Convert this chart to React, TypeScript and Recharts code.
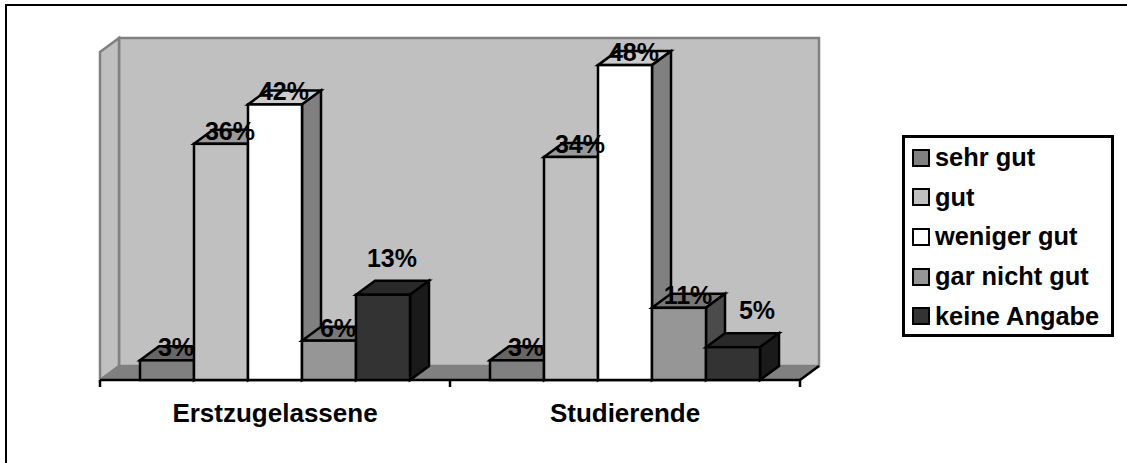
import { BarChart, Bar, XAxis, YAxis, Legend, LabelList, usePlotArea } from 'recharts';

const categories = ['Erstzugelassene', 'Studierende'];
const sehrGut = [3, 3];
const gut = [36, 34];
const wenigerGut = [42, 48];
const garNichtGut = [6, 11];
const keineAngabe = [13, 5];

const seriesNames = ['sehr gut', 'gut', 'weniger gut', 'gar nicht gut', 'keine Angabe'];
const seriesValues = [sehrGut, gut, wenigerGut, garNichtGut, keineAngabe];

// front, top and side face of each 3D column
const faces = [
  { front: '#808080', top: '#666666', side: '#404040' },
  { front: '#c0c0c0', top: '#9a9a9a', side: '#606060' },
  { front: '#ffffff', top: '#cccccc', side: '#808080' },
  { front: '#969696', top: '#787878', side: '#4b4b4b' },
  { front: '#333333', top: '#292929', side: '#1a1a1a' },
];

const chartData = categories.map((name, c) => {
  const row: Record<string, string | number> = { name };
  seriesNames.forEach((s, i) => {
    row[s] = seriesValues[i][c];
  });
  return row;
});

const WIDTH = 1127;
const HEIGHT = 463;
const DEPTH_X = 19;
const DEPTH_Y = 14;
const LINE = 2.5;
const FONT = '"Liberation Sans", Arial, sans-serif';
const LEGEND_WIDTH = 212;
const MARGIN = { left: 100, right: 327, top: 52, bottom: 53 };
// a right-hand legend takes its width out of the plot, so give that back
const LEGEND_MARGIN = { ...MARGIN, right: MARGIN.right - LEGEND_WIDTH };

// labels that sit clear of their column, by series and category
const labelNudge: Record<string, { dx: number; dy: number }> = {
  'keine Angabe|0': { dx: 0, dy: -24 },
  'keine Angabe|1': { dx: 15, dy: -24 },
};

function pts(list: number[][]) {
  return list.map((p) => p.join(',')).join(' ');
}

// back wall, side wall and floor behind the columns
function Walls() {
  const plot = usePlotArea();
  if (!plot) return null;
  const { x, y, width, height } = plot;
  const r = x + width;
  const b = y + height;
  const grey = '#808080';
  return (
    <g>
      <rect x={x + DEPTH_X} y={y - DEPTH_Y} width={width} height={height} fill="#c0c0c0" stroke={grey} strokeWidth={LINE} />
      <polygon
        points={pts([[x, y], [x + DEPTH_X, y - DEPTH_Y], [x + DEPTH_X, b - DEPTH_Y], [x, b]])}
        fill="#c0c0c0"
        stroke={grey}
        strokeWidth={LINE}
      />
      <polygon
        points={pts([[x, b], [x + DEPTH_X, b - DEPTH_Y], [r + DEPTH_X, b - DEPTH_Y], [r, b]])}
        fill={grey}
        stroke={grey}
      />
    </g>
  );
}

// axis line with ticks on the category edges
function AxisEdge() {
  const plot = usePlotArea();
  if (!plot) return null;
  const { x, y, width, height } = plot;
  const b = y + height;
  const ticks = categories.map((_, i) => x + (width / categories.length) * i).concat(x + width);
  return (
    <g stroke="#000" strokeWidth={LINE}>
      <line x1={x} y1={b} x2={x + width} y2={b} />
      <line x1={x + width} y1={b} x2={x + width + DEPTH_X} y2={b - DEPTH_Y} />
      {ticks.map((t) => (
        <line key={t} x1={t} y1={b} x2={t} y2={b + 7} />
      ))}
    </g>
  );
}

function Column(props: any) {
  const { x, y, width, height, faceIndex } = props;
  const f = faces[faceIndex];
  const r = x + width;
  const b = y + height;
  const common = { stroke: '#000', strokeWidth: LINE, strokeLinejoin: 'miter' as const };
  return (
    <g>
      <polygon points={pts([[x, y], [x + DEPTH_X, y - DEPTH_Y], [r + DEPTH_X, y - DEPTH_Y], [r, y]])} fill={f.top} {...common} />
      <polygon points={pts([[r, y], [r + DEPTH_X, y - DEPTH_Y], [r + DEPTH_X, b - DEPTH_Y], [r, b]])} fill={f.side} {...common} />
      <rect x={x} y={y} width={width} height={height} fill={f.front} {...common} />
    </g>
  );
}

function ValueLabel(props: any) {
  const { x, y, width, value, index, seriesName } = props;
  const nudge = labelNudge[`${seriesName}|${index}`] || { dx: 0, dy: 0 };
  return (
    <text
      x={x + width / 2 + 9 + nudge.dx}
      y={y - 13 + nudge.dy}
      textAnchor="middle"
      dominantBaseline="central"
      fontFamily={FONT}
      fontSize={25}
      fontWeight="bold"
      fill="#000"
    >
      {value}%
    </text>
  );
}

function LegendBox(props: any) {
  const { payload } = props;
  return (
    <div
      style={{
        boxSizing: 'border-box',
        width: LEGEND_WIDTH,
        height: 202,
        border: '3px solid #000',
        background: '#fff',
        padding: '0 0 0 7px',
        fontFamily: FONT,
        fontSize: 25.4,
        fontWeight: 'bold',
        color: '#000',
      }}
    >
      {seriesNames.map((name, i) => {
        const item = (payload || []).find((p: any) => p.value === name);
        return (
          <div key={name} style={{ display: 'flex', alignItems: 'center', height: 39.6 }}>
            <span
              style={{
                boxSizing: 'border-box',
                display: 'inline-block',
                width: 18,
                height: 18,
                marginRight: 5,
                border: '2px solid #000',
                background: item?.color || faces[i].front,
              }}
            />
            {name}
          </div>
        );
      })}
    </div>
  );
}

export default function App() {
  return (
    <div style={{ position: 'absolute', left: 0, top: 0, width: WIDTH, height: HEIGHT, background: '#fff', overflow: 'hidden' }}>
      {/* frame only shows along the top and left */}
      <div
        style={{
          position: 'absolute',
          left: 5,
          top: 4,
          width: WIDTH,
          height: HEIGHT,
          boxSizing: 'border-box',
          borderTop: '2px solid #000',
          borderLeft: '2px solid #000',
        }}
      />
      <div style={{ position: 'absolute', left: 0, top: 0 }}>
        <BarChart width={WIDTH} height={HEIGHT} data={chartData} margin={LEGEND_MARGIN} barGap={0} barCategoryGap={40}>
          <Walls />
          <XAxis
            dataKey="name"
            axisLine={false}
            tickLine={false}
            tickMargin={18}
            tick={{ fontFamily: FONT, fontSize: 26, fontWeight: 'bold', fill: '#000' }}
            interval={0}
          />
          <YAxis hide domain={[0, 50]} />
          <Legend
            layout="vertical"
            align="right"
            verticalAlign="top"
            content={<LegendBox />}
            wrapperStyle={{ left: 902, top: 135, width: LEGEND_WIDTH }}
          />
          {seriesNames.map((name, i) => (
            <Bar
              key={name}
              dataKey={name}
              fill={faces[i].front}
              isAnimationActive={false}
              shape={(p: any) => <Column {...p} faceIndex={i} />}
            />
          ))}
          <AxisEdge />
        </BarChart>
      </div>
      {/* second layer so the value labels stay above every column */}
      <div style={{ position: 'absolute', left: 0, top: 0 }}>
        <BarChart width={WIDTH} height={HEIGHT} data={chartData} margin={MARGIN} barGap={0} barCategoryGap={40}>
          <XAxis dataKey="name" axisLine={false} tickLine={false} tick={false} />
          <YAxis hide domain={[0, 50]} />
          {seriesNames.map((name) => (
            <Bar key={name} dataKey={name} fill="none" isAnimationActive={false}>
              <LabelList dataKey={name} content={(p: any) => <ValueLabel {...p} seriesName={name} />} />
            </Bar>
          ))}
        </BarChart>
      </div>
    </div>
  );
}
